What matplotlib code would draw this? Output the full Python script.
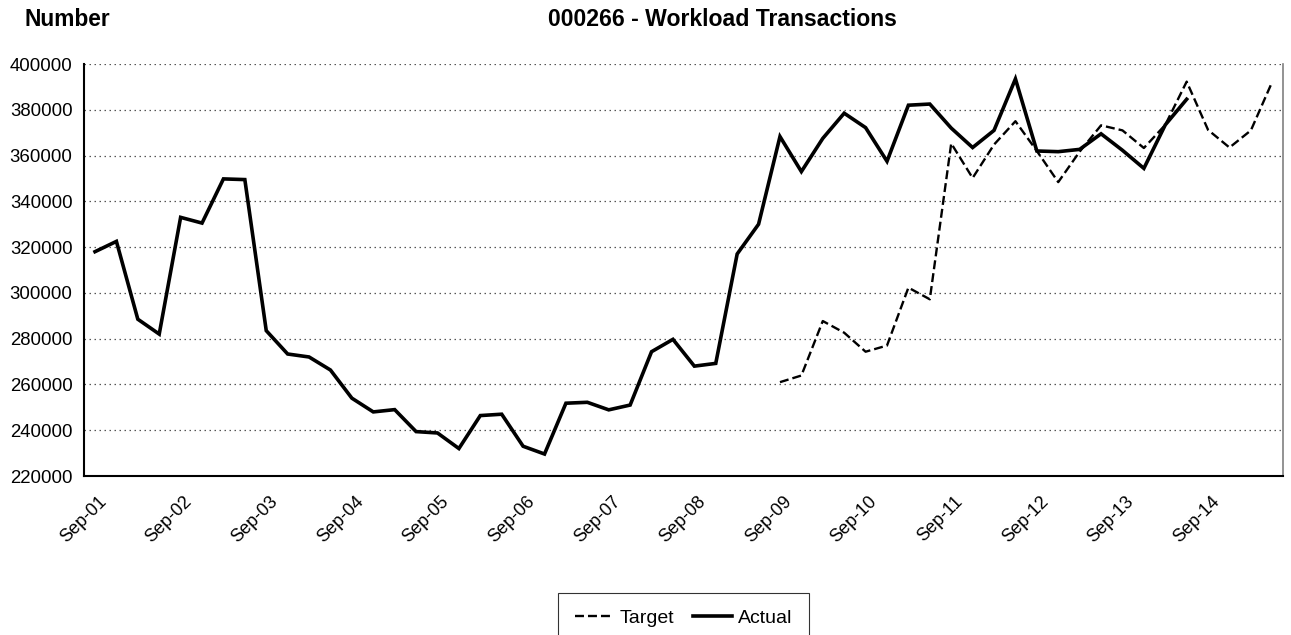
import numpy as np
import matplotlib
matplotlib.use("Agg")
import matplotlib.pyplot as plt
from matplotlib.transforms import ScaledTranslation

plt.rcParams['font.family'] = ['Liberation Sans', 'DejaVu Sans']

quarters = []
for y in range(1, 15):
    for m in ['Sep', 'Dec', 'Mar', 'Jun']:
        yy = y if m in ('Sep', 'Dec') else y + 1
        quarters.append(f"{m}-{yy:02d}")

tick_labels = ['Sep-01', 'Sep-02', 'Sep-03', 'Sep-04', 'Sep-05', 'Sep-06', 'Sep-07',
               'Sep-08', 'Sep-09', 'Sep-10', 'Sep-11', 'Sep-12', 'Sep-13', 'Sep-14']

actual = [318000, 322500, 288500, 282000, 333000, 330500, 349800, 349500,
          283500, 273300, 272000, 266300, 254000, 248000, 249000, 239400,
          238800, 232000, 246400, 247000, 233000, 229600, 251800, 252200,
          248900, 251000, 274300, 279700, 268000, 269200, 317000, 330000,
          368300, 353000, 367500, 378500, 372200, 357500, 382000, 382500,
          372000, 363500, 371000, 393500, 362000, 361700, 362700, 369500,
          362300, 354400, 373400, 384600]

target = [None] * 32 + [261000, 263900, 287700, 282600, 274300, 277000, 302300, 297200,
                        365300, 350200, 364800, 375000, 362000, 348400, 361700, 373200,
                        371000, 363300, 373400, 392300, 371200, 363500, 371000, 392300]

x = np.arange(len(quarters))
act = np.array(actual, dtype=float)
tgt = np.array([np.nan if v is None else v for v in target], dtype=float)

fig = plt.figure(figsize=(12.91, 6.35), dpi=100)
ax = fig.add_axes([84.3/1291, 1-476/635, (1283-84.3)/1291, (476-64)/635])

ax.plot(x[:len(act)], act, color='black', lw=2.6, solid_joinstyle='miter', label='Actual', zorder=4)
ax.plot(x, tgt, color='black', lw=1.7, dashes=(3.8, 1.7), label='Target', zorder=3)

ax.set_xlim(-0.5, len(quarters) - 0.5)
ax.set_ylim(220000, 400000)
ax.set_yticks(np.arange(220000, 400001, 20000))
ax.set_yticklabels([f"{v}" for v in range(220000, 400001, 20000)])
ax.yaxis.grid(True, color='#555555', lw=0.9, dashes=(1.2, 2.8))
ax.set_axisbelow(True)

tick_pos = [quarters.index(t) for t in tick_labels]
ax.set_xticks(tick_pos)
ax.set_xticklabels(tick_labels, rotation=45, ha='right', va='center', rotation_mode='anchor')
ax.tick_params(axis='x', length=0, pad=16.5, labelsize=13)
ax.tick_params(axis='y', length=0, pad=8.5, labelsize=13.4)
off = ScaledTranslation(9/100, 0, fig.dpi_scale_trans)
for lab in ax.get_xticklabels():
    lab.set_transform(lab.get_transform() + off)

for s in ['left', 'bottom']:
    ax.spines[s].set_color('black')
    ax.spines[s].set_linewidth(1.5)
ax.spines['top'].set_visible(False)
ax.spines['right'].set_color('#808080')
ax.spines['right'].set_linewidth(1.2)

fig.text(25/1291, 1-19/635, 'Number', fontsize=16.4, fontweight='bold', ha='left', va='center')
fig.text(722.5/1291, 1-19.5/635, '000266 - Workload Transactions', fontsize=16.6,
         fontweight='bold', ha='center', va='center')

h, l = ax.get_legend_handles_labels()
order = [1, 0]
leg = fig.legend([h[i] for i in order], [l[i] for i in order], loc='upper center',
                 bbox_to_anchor=(683.5/1291, 1-583/635), ncol=2, fontsize=14,
                 frameon=True, fancybox=False, edgecolor='black', borderpad=0.85,
                 handlelength=2.0, handletextpad=0.3, columnspacing=1.0)
leg.get_frame().set_linewidth(0.8)

fig.savefig('out.png', dpi=100)
